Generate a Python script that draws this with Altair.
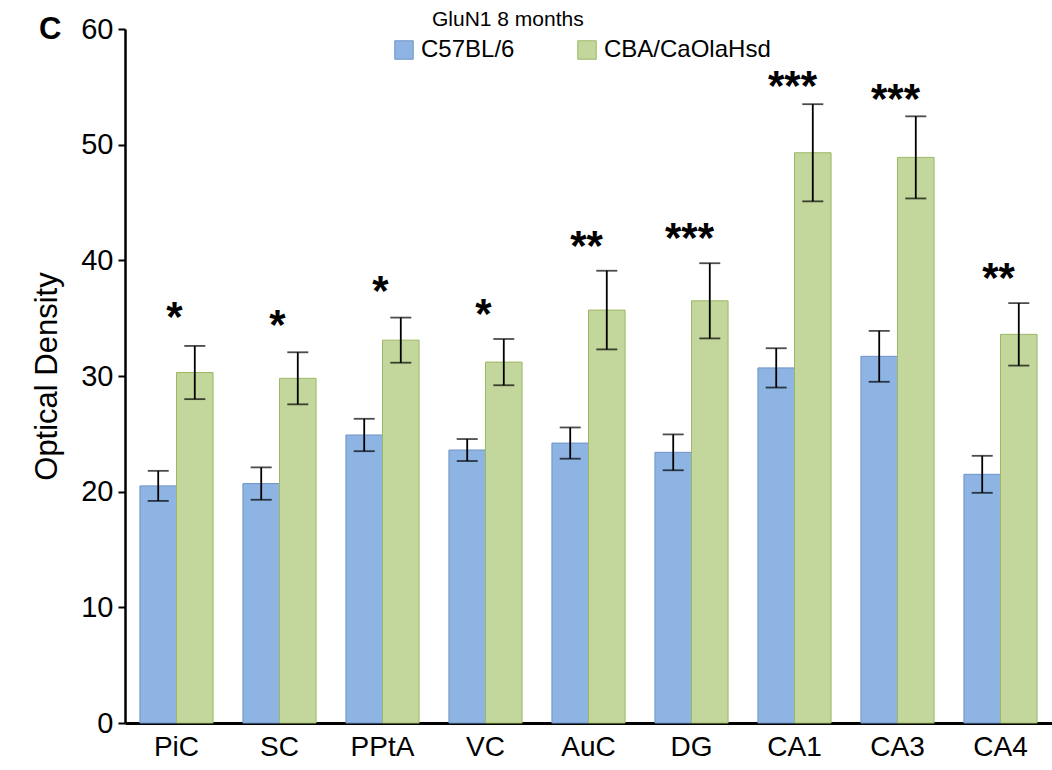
import altair as alt
import pandas as pd

regions = ["PiC", "SC", "PPtA", "VC", "AuC", "DG", "CA1", "CA3", "CA4"]
strains = ["C57BL/6", "CBA/CaOlaHsd"]
c57_mean = [20.5, 20.7, 24.9, 23.6, 24.2, 23.4, 30.7, 31.7, 21.5]
c57_err = [1.3, 1.4, 1.4, 0.95, 1.35, 1.55, 1.7, 2.2, 1.6]
cba_mean = [30.3, 29.8, 33.1, 31.2, 35.7, 36.5, 49.3, 48.9, 33.6]
cba_err = [2.3, 2.25, 1.95, 2.0, 3.4, 3.25, 4.2, 3.55, 2.7]
sig = ["*", "*", "*", "*", "**", "***", "***", "***", "**"]
sig_level = [35.5, 34.8, 37.8, 35.8, 41.7, 42.4, 55.5, 54.4, 38.9]
y_ticks = [0, 10, 20, 30, 40, 50, 60]

rows = []
for i, r in enumerate(regions):
    for s, m, e in ((strains[0], c57_mean[i], c57_err[i]), (strains[1], cba_mean[i], cba_err[i])):
        rows.append({"region": r, "strain": s, "mean": m, "lo": m - e, "hi": m + e})
df = pd.DataFrame(rows)
stars = pd.DataFrame({"region": regions, "sig": sig, "ypos": sig_level})

FONT = "Liberation Sans"
xscale = alt.Scale(domain=regions, paddingInner=0.29, paddingOuter=0.145)
yscale = alt.Scale(domain=[0, 60], nice=False, zero=True)
offscale = alt.Scale(domain=strains, paddingInner=0, paddingOuter=0)

x_enc = alt.X("region:N", scale=xscale, sort=regions,
              axis=alt.Axis(title=None, labelAngle=0, labelFontSize=28, labelFont=FONT,
                            labelColor="black", ticks=False, domainColor="black",
                            domainWidth=3, labelPadding=10, grid=False))
y_enc = alt.Y("mean:Q", scale=yscale,
              axis=alt.Axis(title="Optical Density", values=y_ticks, grid=False,
                            labelFontSize=29, labelFont=FONT, labelColor="black",
                            titleFontSize=31, titleFont=FONT, titleFontWeight="normal",
                            titleColor="black", titlePadding=17, tickColor="black",
                            tickSize=7, tickWidth=2, domainColor="black", domainWidth=2.5,
                            labelPadding=5))
xo = alt.XOffset("strain:N", scale=offscale, sort=strains)

def xs():
    return alt.X("region:N", scale=xscale, sort=regions)

def ys(field):
    return alt.Y(field, scale=yscale)

bars = alt.Chart(df).mark_bar(strokeWidth=1).encode(
    x=x_enc, xOffset=xo, y=y_enc,
    color=alt.Color("strain:N", sort=strains,
                    scale=alt.Scale(domain=strains, range=["#8DB4E2", "#C3D69B"]),
                    legend=alt.Legend(title=None, orient="none", legendX=267, legendY=9,
                                      direction="horizontal", symbolType="square",
                                      symbolSize=340, symbolStrokeWidth=1,
                                      labelFontSize=24, labelFont=FONT, labelColor="black",
                                      labelLimit=400, columnPadding=60, labelOffset=5)),
    stroke=alt.Stroke("strain:N", sort=strains,
                      scale=alt.Scale(domain=strains, range=["#6F93C6", "#9CB865"]),
                      legend=None),
)

rules = alt.Chart(df).mark_rule(color="black", strokeWidth=1.8).encode(
    x=xs(), xOffset=xo, y=ys("lo:Q"), y2="hi:Q")
cap_lo = alt.Chart(df).mark_tick(color="black", thickness=1.8, size=21).encode(
    x=xs(), xOffset=xo, y=ys("lo:Q"))
cap_hi = alt.Chart(df).mark_tick(color="black", thickness=1.8, size=21).encode(
    x=xs(), xOffset=xo, y=ys("hi:Q"))

star_text = alt.Chart(stars).mark_text(fontSize=42, font=FONT, fontWeight="bold", color="black",
                                      baseline="alphabetic", dy=19, dx=-2).encode(
    x=xs(), y=ys("ypos:Q"), text="sig:N")

panel = alt.Chart(pd.DataFrame({"t": ["C"]})).mark_text(
    fontSize=31, font=FONT, fontWeight="bold", color="black", align="left",
    baseline="middle").encode(x=alt.value(-86), y=alt.value(1), text="t:N")

chart = alt.layer(bars, rules, cap_lo, cap_hi, star_text, panel).properties(
    width=927, height=694,
    background="white",
    title=alt.Title("GluN1 8 months", anchor="start", frame="group", dx=307, fontSize=21,
                    font=FONT, fontWeight="normal", color="black", offset=-16),
    padding={"left": 125, "top": 29, "right": 0, "bottom": 47},
    autosize=alt.AutoSizeParams(type="none"),
).configure_view(strokeWidth=0, stroke=None).configure_axis(grid=False)

chart.save("out.html", embed_options={"renderer": "svg", "actions": False})
